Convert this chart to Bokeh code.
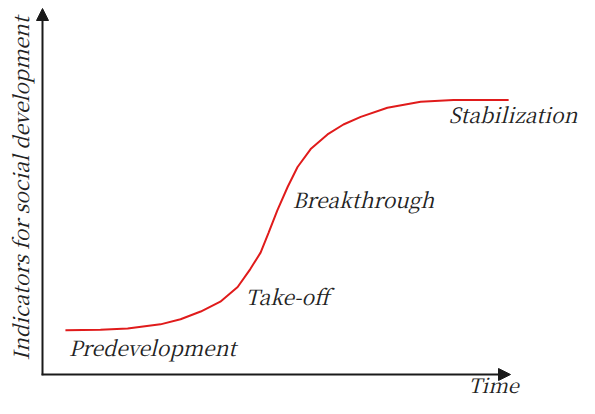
from bokeh.plotting import figure
from bokeh.models import Arrow, NormalHead, Range1d, ColumnDataSource
from bokeh.embed import file_html
from bokeh.resources import INLINE
from bokeh.core.properties import value
import math

# ---- data ----
time_vals = [4.9, 12.4, 18.2, 25.2, 29.5, 33.8, 38.0, 41.7, 44.4, 46.6, 48.3, 50.2,
             52.4, 54.5, 57.3, 60.9, 64.3, 68.0, 73.7, 80.8, 87.8, 99.6]
indicator_vals = [12.1, 12.2, 12.6, 13.7, 15.1, 17.2, 19.9, 23.9, 28.8, 33.3, 38.7, 44.9,
                  51.3, 56.7, 61.6, 65.6, 68.3, 70.4, 72.9, 74.5, 75.0, 75.0]

stage_labels = ["Predevelopment", "Take-off", "Breakthrough", "Stabilization"]
x_title = "Time"
y_title = "Indicators for social development"

X_MAX = 100
Y_MAX = 100

# ---- label anchors (data units) ----
stage_x = [5.6, 43.4, 53.4, 114.3]
stage_y = [7.6, 21.4, 48.0, 71.1]
stage_align = ["left", "left", "left", "right"]
x_title_pos = (91.0, -2.73)
y_title_pos = (-4.9, 3.8)

W, H = 579, 398
px_x = 4.68
px_y = 3.66
x0, y0 = 42, 24

p = figure(width=W, height=H, output_backend="svg", toolbar_location=None,
           x_range=Range1d(-x0 / px_x, (W - x0) / px_x),
           y_range=Range1d(-y0 / px_y, (H - y0) / px_y),
           min_border=0)
p.axis.visible = False
p.grid.visible = False
p.outline_line_color = None

axis_col = "#1a1a1a"
p.add_layout(Arrow(x_start=-0.2, y_start=0, x_end=X_MAX, y_end=0,
                   line_color=axis_col, line_width=2,
                   end=NormalHead(size=12, fill_color=axis_col, line_color=axis_col, line_width=1)))
p.add_layout(Arrow(x_start=0, y_start=-0.2, x_end=0, y_end=Y_MAX,
                   line_color=axis_col, line_width=2,
                   end=NormalHead(size=12, fill_color=axis_col, line_color=axis_col, line_width=1)))

p.line(time_vals, indicator_vals, line_color="#e01b1b", line_width=2)

FONT = value("Noto Serif CJK JP")
src = ColumnDataSource(dict(x=stage_x, y=stage_y, t=stage_labels, a=stage_align))
p.text(x="x", y="y", text="t", source=src, text_font=FONT, text_font_style="italic",
       text_font_size="21px", text_color="#222222", text_baseline="alphabetic",
       text_align="a")

p.text(x=[x_title_pos[0]], y=[x_title_pos[1]], text=[x_title], text_font=FONT,
       text_font_style="italic", text_font_size="20px", text_color="#222222",
       text_baseline="alphabetic", text_align="left")
p.text(x=[y_title_pos[0]], y=[y_title_pos[1]], text=[y_title], angle=math.pi / 2,
       text_font=FONT, text_font_style="italic", text_font_size="21px",
       text_color="#222222", text_baseline="alphabetic", text_align="left")

open("out.html", "w").write(file_html(p, INLINE))
